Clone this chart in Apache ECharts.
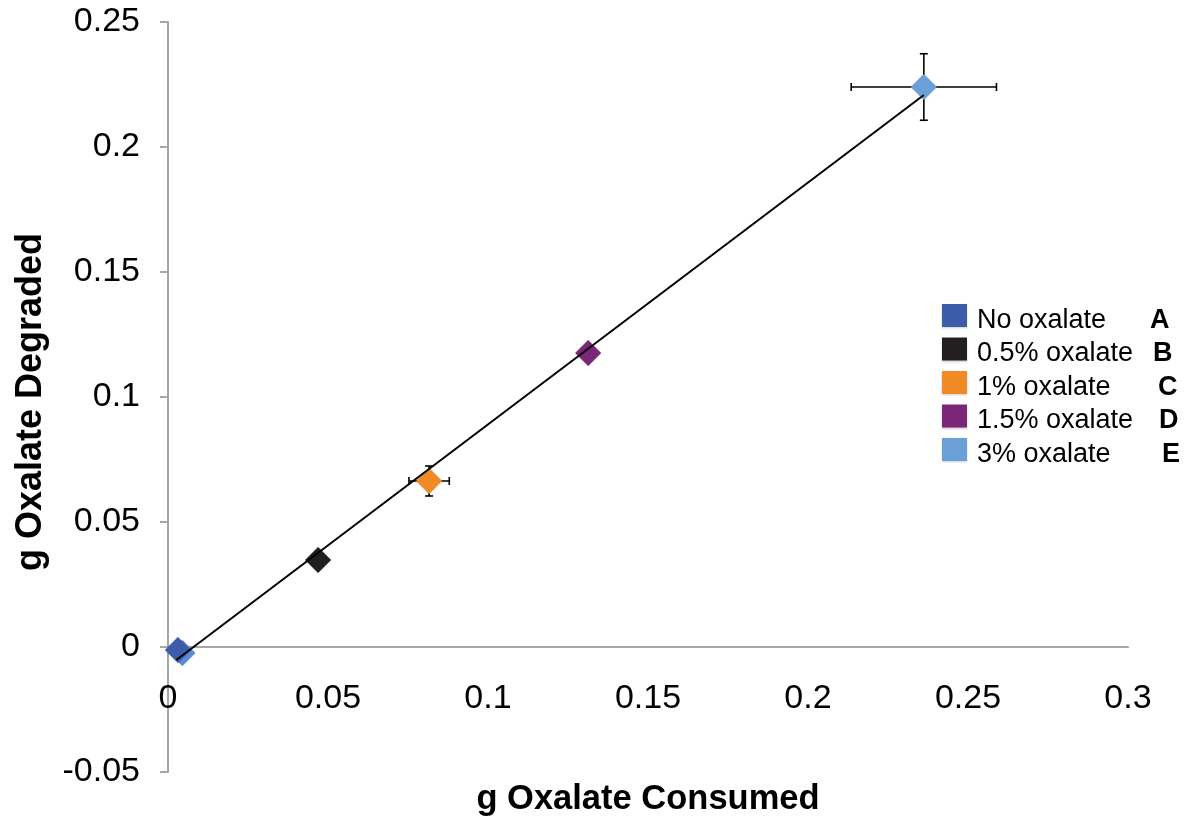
<!DOCTYPE html>
<html>
<head>
<meta charset="utf-8">
<style>
  html, body { margin: 0; padding: 0; background: #fff; }
  #chart { width: 1186px; height: 818px; }
</style>
<script src="https://cdn.jsdelivr.net/npm/echarts@6/dist/echarts.min.js"></script>
</head>
<body>
<div id="chart"></div>
<script>
// ---- data ----
const seriesNames   = ['No oxalate', '0.5% oxalate', '1% oxalate', '1.5% oxalate', '3% oxalate'];
const seriesLetters = ['A', 'B', 'C', 'D', 'E'];
const seriesColors  = ['#3c5caa', '#231f20', '#f08a24', '#7a2679', '#6b9fd7'];
const xValues = [0.0031, 0.0469, 0.0816, 0.1313, 0.2362];
const yValues = [-0.0012, 0.0348, 0.0664, 0.1176, 0.2240];
const xErrors = [0, 0, 0.0063, 0, 0.0227];
const yErrors = [0, 0, 0.0060, 0, 0.0133];
// second (replicate) "No oxalate" point partly hidden behind the first
const extraA = [0.0045, -0.0024];
// linear trendline end points
const trendX = [0.0026, 0.2362];
const trendY = [-0.0052, 0.2208];
const xTickLabels = ['0', '0.05', '0.1', '0.15', '0.2', '0.25', '0.3'];
const yTickLabels = ['-0.05', '0', '0.05', '0.1', '0.15', '0.2', '0.25'];

const FONT = "'Liberation Sans', Arial, Helvetica, sans-serif";
const letterOffsets = [173, 176, 181, 182, 185];

const rich = {
  s: { width: 5, padding: [10, 0, 0, 0] },
  b: { fontWeight: 'bold', fontSize: 27, color: '#000', fontFamily: FONT, padding: [10, 0, 0, 0] }
};
seriesNames.forEach((n, i) => {
  rich['n' + i] = { width: letterOffsets[i], fontSize: 27, color: '#000', fontFamily: FONT, padding: [10, 0, 0, 0] };
});

const scatterSeries = seriesNames.map((name, i) => {
  const data = [];
  if (i === 0) {
    data.push({ value: extraA, itemStyle: { color: '#5a89d6' } });
  }
  data.push([xValues[i], yValues[i]]);
  return {
    name: name,
    type: 'scatter',
    symbol: 'diamond',
    symbolSize: 26,
    itemStyle: { color: seriesColors[i], opacity: 1, shadowColor: 'rgba(0,0,0,0.15)', shadowBlur: 2 },
    data: data,
    z: 3
  };
});

const chart = echarts.init(document.getElementById('chart'), null, { renderer: 'canvas' });
chart.setOption({
  animation: false,
  backgroundColor: '#fff',
  textStyle: { fontFamily: FONT },
  grid: { left: 168, right: 58, top: 22, bottom: 46, containLabel: false, outerBoundsMode: 'none' },
  legend: {
    orient: 'vertical',
    left: 937,
    top: 299,
    icon: 'rect',
    itemWidth: 25,
    itemHeight: 23,
    itemGap: 3.5,
    data: seriesNames,
    itemStyle: { opacity: 1, shadowColor: 'rgba(0,0,0,0.2)', shadowBlur: 2, shadowOffsetY: 1 },
    formatter: function (name) {
      const i = seriesNames.indexOf(name);
      return '{s| }{n' + i + '|' + name + '}{b|' + seriesLetters[i] + '}';
    },
    textStyle: { fontSize: 27, color: '#000', fontFamily: FONT, rich: rich }
  },
  xAxis: {
    type: 'value',
    min: 0, max: 0.3, interval: 0.05,
    axisLine: { onZero: true, lineStyle: { color: '#a6a6a6', width: 2 } },
    axisTick: { show: false },
    splitLine: { show: false },
    axisLabel: {
      fontSize: 34, color: '#000', margin: -90, fontFamily: FONT,
      formatter: function (v) { return xTickLabels[Math.round(v / 0.05)]; }
    },
    name: 'g Oxalate Consumed',
    nameLocation: 'middle',
    nameGap: 10,
    nameMoveOverlap: false,
    nameTextStyle: { fontSize: 34.5, fontWeight: 'bold', color: '#000', fontFamily: FONT }
  },
  yAxis: {
    type: 'value',
    min: -0.05, max: 0.25, interval: 0.05,
    axisLine: { show: true, lineStyle: { color: '#a6a6a6', width: 2 } },
    axisTick: { show: true, length: 8, lineStyle: { color: '#a6a6a6', width: 2 } },
    splitLine: { show: false },
    axisLabel: {
      fontSize: 34, color: '#000', margin: 28, fontFamily: FONT,
      formatter: function (v) { return yTickLabels[Math.round(v / 0.05) + 1]; }
    },
    name: 'g Oxalate Degraded',
    nameLocation: 'middle',
    nameGap: 119,
    nameMoveOverlap: false,
    nameTextStyle: { fontSize: 36, fontWeight: 'bold', color: '#000', fontFamily: FONT, padding: [0, 10, 0, 0] }
  },
  series: [
    {
      name: 'error bars',
      type: 'custom',
      z: 2,
      silent: true,
      data: xValues.map((x, i) => [x, yValues[i], xErrors[i], yErrors[i]]),
      renderItem: function (params, api) {
        const x = api.value(0), y = api.value(1), ex = api.value(2), ey = api.value(3);
        const style = { stroke: '#000', lineWidth: 1.6 };
        const children = [];
        const cap = 4;
        if (ex > 0) {
          const p1 = api.coord([x - ex, y]), p2 = api.coord([x + ex, y]);
          children.push({ type: 'line', shape: { x1: p1[0], y1: p1[1], x2: p2[0], y2: p2[1] }, style: style });
          children.push({ type: 'line', shape: { x1: p1[0], y1: p1[1] - cap, x2: p1[0], y2: p1[1] + cap }, style: style });
          children.push({ type: 'line', shape: { x1: p2[0], y1: p2[1] - cap, x2: p2[0], y2: p2[1] + cap }, style: style });
        }
        if (ey > 0) {
          const p1 = api.coord([x, y - ey]), p2 = api.coord([x, y + ey]);
          children.push({ type: 'line', shape: { x1: p1[0], y1: p1[1], x2: p2[0], y2: p2[1] }, style: style });
          children.push({ type: 'line', shape: { x1: p1[0] - cap, y1: p1[1], x2: p1[0] + cap, y2: p1[1] }, style: style });
          children.push({ type: 'line', shape: { x1: p2[0] - cap, y1: p2[1], x2: p2[0] + cap, y2: p2[1] }, style: style });
        }
        return { type: 'group', children: children };
      }
    }
  ].concat(scatterSeries).concat([
    {
      name: 'trendline',
      type: 'line',
      z: 4,
      symbol: 'none',
      silent: true,
      lineStyle: { color: '#000', width: 2 },
      data: [[trendX[0], trendY[0]], [trendX[1], trendY[1]]]
    }
  ])
});
</script>
</body>
</html>
